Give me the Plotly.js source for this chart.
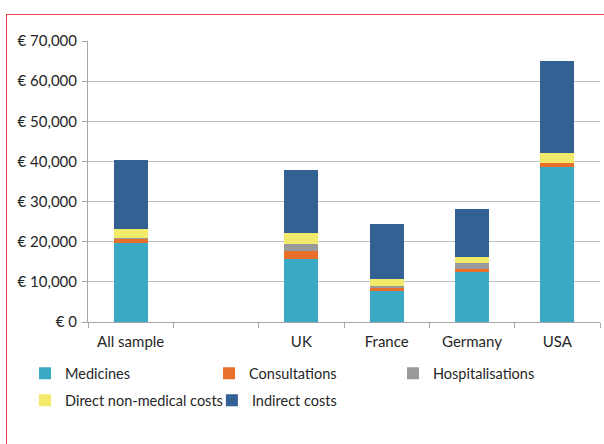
<!DOCTYPE html>
<html><head><meta charset="utf-8">
<script src="https://cdn.plot.ly/plotly-3.0.1.min.js"></script>
<style>
html,body{margin:0;padding:0;background:#fff;overflow:hidden;}
#frame{position:absolute;left:6px;top:14px;width:700px;height:600px;border:1px solid #e8424a;box-sizing:border-box;pointer-events:none;z-index:5;}
#chart{position:absolute;left:0;top:0;width:604px;height:444px;}
</style></head>
<body>
<div id="chart"></div>
<div id="frame"></div>
<script>
var categories = ["All sample", " ", "UK", "France", "Germany", "USA"];
var medicines        = [19600, null, 15700,  7700, 12500, 38500];
var consultations    = [ 1000, null,  2050,   700,   700,  1100];
var hospitalisations = [  400, null,  1650,   500,  1550,     0];
var directNonMedical = [ 2100, null,  2850,  1700,  1500,  2500];
var indirectCosts    = [17200, null, 15650, 13800, 11950, 22900];

var seriesNames = ["Medicines", "Consultations", "Hospitalisations", "Direct non-medical costs", "Indirect costs"];
var seriesData = [medicines, consultations, hospitalisations, directNonMedical, indirectCosts];
var colors = ["#3aa9c4", "#e8702a", "#9a9a9a", "#f2ea6a", "#336194"];
var legendOf = ["legend", "legend", "legend", "legend2", "legend3"];

var traces = seriesNames.map(function(n, i){
  return {type:"bar", name:n, x:categories, y:seriesData[i],
    marker:{color:colors[i], line:{width:0}}, legend:legendOf[i], hoverinfo:"skip"};
});

var font = {family:"Lato, 'Open Sans', sans-serif", size:15, color:"#262626"};
var lfont = {family:"Lato, 'Open Sans', sans-serif", size:14.5, color:"#262626"};
var layout = {
  width:604, height:444,
  margin:{l:88, r:4, t:41, b:122.3},
  barmode:"stack", bargap:0.6,
  paper_bgcolor:"#fff", plot_bgcolor:"#fff",
  font:font, showlegend:true,
  xaxis:{type:"category", categoryorder:"array", categoryarray:categories,
    showline:true, linecolor:"#a6a6a6", linewidth:1,
    ticks:"outside", tickson:"boundaries", ticklen:5, tickcolor:"#a6a6a6",
    ticklabelstandoff:6,
    showgrid:false, tickfont:font, fixedrange:true},
  yaxis:{range:[0,70000], dtick:10000, tickprefix:"€ ", tickformat:",d",
    showline:true, linecolor:"#a6a6a6", linewidth:1,
    ticks:"outside", ticklen:5, tickcolor:"#a6a6a6",
    ticklabelstandoff:2,
    showgrid:true, gridcolor:"#bfbfbf", gridwidth:1, zeroline:false,
    tickfont:font, fixedrange:true},
  legend:{orientation:"h", x:-0.123, xanchor:"left", y:-0.183, yanchor:"middle",
    entrywidth:139, font:lfont, bgcolor:"rgba(0,0,0,0)", traceorder:"normal"},
  legend2:{orientation:"h", x:-0.123, xanchor:"left", y:-0.279, yanchor:"middle",
    font:lfont, bgcolor:"rgba(0,0,0,0)", traceorder:"normal"},
  legend3:{orientation:"h", x:0.242, xanchor:"left", y:-0.279, yanchor:"middle",
    font:lfont, bgcolor:"rgba(0,0,0,0)", traceorder:"normal"}
};
Plotly.newPlot("chart", traces, layout, {displayModeBar:false, staticPlot:true});
</script>
</body></html>
